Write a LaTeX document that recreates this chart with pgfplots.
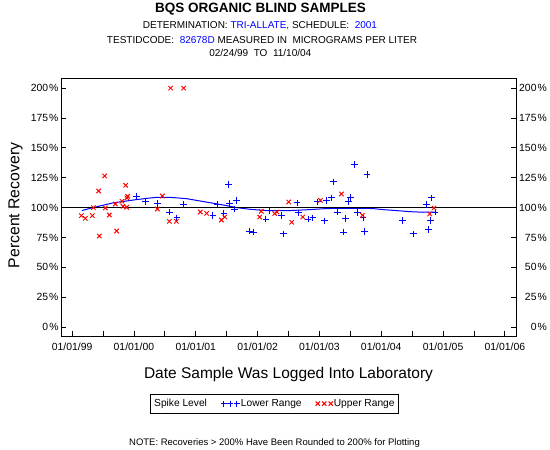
\documentclass[border=0pt]{standalone}
\usepackage{pgfplots}
\pgfplotsset{compat=1.18}
\usepackage{fontspec}
\setmainfont{Liberation Sans}
\definecolor{myblue}{RGB}{0,0,255}
\definecolor{myred}{RGB}{255,0,0}

\pgfplotstableread{
x y
1999.149 93.3
1999.214 91.0
1999.327 93.3
1999.343 100.0
1999.429 113.9
1999.526 126.5
1999.440 76.2
1999.537 99.7
1999.602 93.8
1999.699 103.0
1999.720 80.4
1999.806 105.3
1999.822 101.1
1999.866 118.7
1999.887 108.1
1999.898 109.5
1999.882 100.3
2000.460 109.7
2000.379 98.8
2000.573 88.5
2000.686 88.5
2000.594 200.0
2000.804 200.0
2001.074 96.3
2001.176 95.2
2001.414 89.6
2001.468 92.1
2002.061 96.9
2002.034 92.1
2002.277 95.0
2002.314 96.3
2002.503 104.7
2002.552 87.7
2002.730 92.1
2003.016 106.1
2003.356 111.4
2003.696 93.5
2004.854 99.7
2004.785 94.6
}\tabUpper

\pgfplotstableread{
x y
2000.044 109.2
2000.189 105.3
2000.384 103.4
2000.573 96.3
2000.696 91.3
2000.804 102.5
2001.278 93.3
2001.350 102.5
2001.456 95.0
2001.532 119.0
2001.549 103.4
2001.629 98.8
2001.662 106.1
2001.872 80.4
2001.937 79.5
2002.136 90.4
2002.196 97.7
2002.385 93.3
2002.422 77.9
2002.638 103.9
2002.665 95.5
2002.816 90.4
2002.896 91.3
2002.968 104.7
2003.081 88.8
2003.118 106.1
2003.199 108.1
2003.231 121.5
2003.296 96.3
2003.393 79.5
2003.426 91.0
2003.474 105.0
2003.506 108.6
2003.571 136.1
2003.620 96.1
2003.706 91.3
2003.733 80.1
2003.770 127.7
2004.348 89.1
2004.526 77.9
2004.731 102.5
2004.817 108.1
2004.769 81.5
2004.796 89.1
2004.871 96.3
}\tabLower

\pgfplotstableread{
x y
1999.159 97.5
1999.337 100.0
1999.660 103.9
2000.039 106.7
2000.362 108.6
2000.578 108.6
2000.848 107.5
2001.197 104.4
2001.495 101.7
2001.657 100.0
2001.872 98.6
2002.142 97.5
2002.519 97.5
2002.843 98.3
2003.113 99.2
2003.490 99.4
2003.652 99.4
2003.867 99.2
2004.029 98.3
2004.246 97.5
2004.461 96.6
2004.676 96.1
2004.866 96.3
}\tabTrend

\begin{document}
\begin{tikzpicture}
\useasboundingbox (0pt,0pt) rectangle (550pt,450pt);
\node[font=\fontsize{13.5}{15}\selectfont\bfseries] at (260.5pt,440.7pt) {BQS ORGANIC BLIND SAMPLES};
\node[font=\fontsize{10}{12}\selectfont] at (260pt,424pt) {DETERMINATION: \textcolor{myblue}{TRI-ALLATE,} SCHEDULE:\ \ \textcolor{myblue}{2001}};
\node[font=\fontsize{10}{12}\selectfont] at (262pt,410pt) {TESTIDCODE:\ \ \textcolor{myblue}{82678D} MEASURED IN\ \ MICROGRAMS PER LITER};
\node[font=\fontsize{10}{12}\selectfont] at (260.3pt,397pt) {02/24/99\ \ TO\ \ 11/10/04};
\node[font=\fontsize{9.5}{11}\selectfont] at (274.5pt,7pt) {NOTE: Recoveries > 200\% Have Been Rounded to 200\% for Plotting};

\begin{axis}[
  at={(61pt,114pt)}, anchor=south west,
  width=455pt, height=258pt, scale only axis,
  xmin=1998.82, xmax=2006.18,
  ymin=-7.5, ymax=208.5,
  axis line style={black, line width=0.9pt},
  tick style={black, line width=0.8pt},
  major tick length=5pt, minor tick length=5pt,
  tick align=inside,
  xtick={1999,2000,2001,2002,2003,2004,2005,2006},
  xticklabels={01/01/99,01/01/00,01/01/01,01/01/02,01/01/03,01/01/04,01/01/05,01/01/06},
  minor xtick={1999.5,2000.5,2001.5,2002.5,2003.5,2004.5,2005.5},
  xtick pos=bottom,
  ytick={0,25,50,75,100,125,150,175,200},
  yticklabels={0\kern1pt\%,25\kern1pt\%,50\kern1pt\%,75\kern1pt\%,100\kern1pt\%,125\kern1pt\%,150\kern1pt\%,175\kern1pt\%,200\kern1pt\%},
  ytick pos=both,
  yticklabel pos=left,
  ticklabel style={font=\fontsize{10.4}{12}\selectfont},
  yticklabel style={anchor=east, inner sep=0pt, xshift=-2.3pt},
  xticklabel style={anchor=north, yshift=-3pt},
  xlabel={Date Sample Was Logged Into Laboratory},
  ylabel={Percent Recovery},
  every axis x label/.style={at={(axis description cs:0.5,-0.151)}, anchor=center, font=\fontsize{15.5}{18}\selectfont},
  every axis y label/.style={at={(axis description cs:-0.1,0.506)}, anchor=center, rotate=90, font=\fontsize{15.8}{18}\selectfont},
  legend columns=3,
  legend style={at={(axis description cs:0.469,-0.262)}, anchor=center,
    draw=black, line width=0.8pt, font=\fontsize{10.2}{12}\selectfont,
    inner xsep=3pt, inner ysep=3pt,
    nodes={inner xsep=1pt},
    /tikz/every even column/.append style={column sep=13pt}},
  legend image code/.code={\draw[#1, only marks, mark size=3pt] plot coordinates {(3pt,0pt) (9.5pt,0pt) (16pt,0pt)};},
  clip=false,
]
\addlegendimage{empty legend}
\addlegendentry{Spike Level}
\addplot[myblue, line width=1pt, forget plot] table[x=x,y=y] {\tabTrend};
\addplot[black, line width=1.2pt, forget plot] coordinates {(1998.82,100) (2006.18,100)};
\addplot[only marks, mark=+, mark size=3.4pt, myblue, line width=1pt] table[x=x,y=y] {\tabLower};
\addlegendentry{Lower Range}
\addplot[only marks, mark=x, mark size=3.1pt, myred, line width=0.95pt] table[x=x,y=y] {\tabUpper};
\addlegendentry{Upper Range}
\end{axis}

\begin{axis}[
  at={(61pt,114pt)}, anchor=south west,
  width=455pt, height=258pt, scale only axis,
  xmin=1998.82, xmax=2006.18,
  ymin=-7.5, ymax=208.5,
  hide x axis,
  axis y line*=right,
  y axis line style={draw=none},
  major tick length=0pt,
  ytick={0,25,50,75,100,125,150,175,200},
  yticklabels={0\kern1pt\%,25\kern1pt\%,50\kern1pt\%,75\kern1pt\%,100\kern1pt\%,125\kern1pt\%,150\kern1pt\%,175\kern1pt\%,200\kern1pt\%},
  yticklabel style={font=\fontsize{10.4}{12}\selectfont, anchor=east, inner sep=0pt, xshift=31pt},
]
\end{axis}
\end{tikzpicture}
\end{document}
